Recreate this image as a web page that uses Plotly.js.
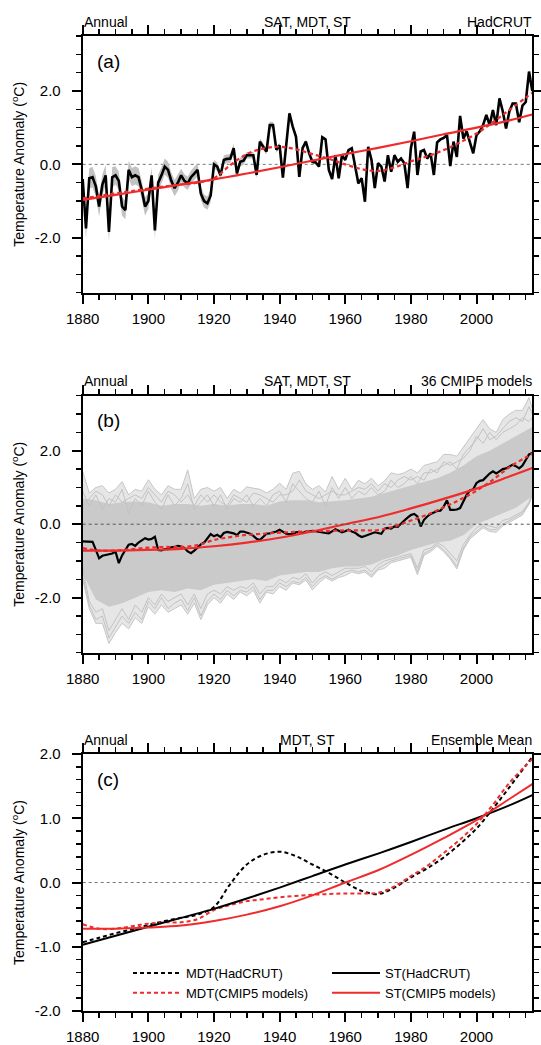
<!DOCTYPE html>
<html><head><meta charset="utf-8">
<script src="https://cdn.plot.ly/plotly-3.0.1.min.js"></script>
<style>html,body{margin:0;padding:0;background:#fff}#chart{width:541px;height:1045px}</style>
</head><body><div id="chart"></div>
<script>
// ---------------- data ----------------
const years = []; for (let y = 1880; y <= 2017; y++) years.push(y);

// (a) HadCRUT annual SAT anomaly
const satHadCRUT = [
 -0.40,-1.75,-0.38,-0.35,-0.60,-1.15,-0.55,-0.30,-1.84,-0.35,
 -0.30,-0.45,-1.15,-1.25,-0.15,-0.35,-0.30,-0.35,-0.70,-1.15,
 -1.00,-0.30,-1.80,-0.50,-0.30,-0.06,-0.15,-0.45,-0.65,-0.50,
 -0.30,-0.45,-0.52,-0.35,-0.25,-0.15,-0.80,-1.00,-1.06,-0.85,
  0.00,-0.06,-0.30, 0.12, 0.15, 0.16, 0.44,-0.25, 0.07, 0.10,
  0.25, 0.25, 0.25,-0.29, 0.62, 0.48, 0.35, 1.07, 1.07, 0.40,
  0.52,-0.36, 0.50, 1.39, 1.03, 0.75,-0.34, 0.44, 0.62, 0.30,
  0.07, 0.05,-0.06, 0.74, 0.68,-0.15,-0.40, 0.25,-0.38, 0.25,
  0.12, 0.39, 0.44,-0.06,-0.52,-0.38,-1.02, 0.48, 0.12,-0.65,
  0.03,-0.06,-0.47, 0.25,-0.20, 0.25, 0.07, 0.16, 0.03,-0.65,
  0.44, 0.89,-0.29, 0.35, 0.39, 0.16, 0.30,-0.29, 0.60, 0.68,
  0.72, 0.80,-0.05, 0.62, 0.20, 1.32, 0.70, 0.90, 0.57, 0.30,
  0.80, 0.90, 1.07, 1.35, 1.07, 1.48, 1.07, 1.80, 1.45, 0.98,
  1.44, 1.66, 1.66, 1.15, 1.60, 1.70, 2.53, 2.00];
// half-width of the HadCRUT uncertainty band, per decade (1880s ... 2010s)
const satUncDecade = [0.28,0.25,0.22,0.18,0.12,0.09,0.06,0.05,0.04,0.04,0.04,0.04,0.04,0.04];

// MDT and ST curves
const mdtYears = [1880,1885,1890,1895,1900,1905,1910,1915,1920,1925,1930,1935,1940,1945,1950,1955,1960,1965,1970,1975,1980,1985,1990,1995,2000,2005,2010,2015,2017];
const mdtHadCRUT = [-0.93,-0.86,-0.79,-0.73,-0.66,-0.60,-0.55,-0.50,-0.38,-0.02,0.28,0.43,0.48,0.41,0.28,0.15,0.00,-0.13,-0.18,-0.08,0.08,0.22,0.39,0.60,0.84,1.15,1.48,1.82,1.95];
const mdtCMIP5 = [-0.65,-0.72,-0.72,-0.68,-0.64,-0.62,-0.62,-0.57,-0.43,-0.35,-0.29,-0.26,-0.23,-0.21,-0.19,-0.18,-0.17,-0.17,-0.16,-0.06,0.10,0.26,0.46,0.67,0.91,1.21,1.55,1.82,1.92];
const stYears = [1880,1890,1900,1910,1920,1930,1940,1950,1960,1970,1980,1990,2000,2010,2017];
const stHadCRUT = [-0.97,-0.83,-0.69,-0.55,-0.41,-0.25,-0.08,0.10,0.28,0.45,0.63,0.82,1.00,1.20,1.36];
const stCMIP5 = [-0.72,-0.72,-0.70,-0.67,-0.60,-0.50,-0.37,-0.20,0.00,0.19,0.43,0.69,0.97,1.30,1.53];

// (b) CMIP5 multi-model mean SAT
const satCMIP5Mean = [
 -0.47,-0.47,-0.47,-0.48,-0.70,-0.93,-0.86,-0.84,-0.84,-0.80,
 -0.75,-1.06,-0.85,-0.70,-0.56,-0.54,-0.59,-0.50,-0.44,-0.38,
 -0.42,-0.40,-0.34,-0.70,-0.71,-0.68,-0.68,-0.63,-0.62,-0.59,
 -0.61,-0.65,-0.74,-0.79,-0.72,-0.62,-0.55,-0.50,-0.38,-0.27,
 -0.33,-0.29,-0.35,-0.24,-0.21,-0.23,-0.25,-0.30,-0.20,-0.20,
 -0.23,-0.26,-0.32,-0.40,-0.43,-0.34,-0.26,-0.25,-0.23,-0.20,
 -0.15,-0.20,-0.26,-0.27,-0.27,-0.22,-0.21,-0.24,-0.20,-0.20,
 -0.18,-0.19,-0.20,-0.21,-0.24,-0.25,-0.20,-0.14,-0.18,-0.22,
 -0.19,-0.15,-0.20,-0.23,-0.30,-0.35,-0.32,-0.29,-0.25,-0.22,
 -0.24,-0.26,-0.12,-0.10,-0.12,-0.06,-0.07, 0.03, 0.10, 0.18,
  0.25, 0.28, 0.21,-0.06, 0.12, 0.21, 0.28, 0.32, 0.36, 0.37,
  0.48, 0.65, 0.39, 0.39, 0.40, 0.44, 0.62, 0.80, 0.92, 0.95,
  1.12, 1.18, 1.20, 1.30, 1.38, 1.44, 1.38, 1.44, 1.50, 1.52,
  1.58, 1.62, 1.58, 1.52, 1.60, 1.75, 1.90, 1.94];

// (b) spread of the 36 CMIP5 model runs: outer envelope, dense core and a few individual fringe runs
const envYears = [1880,1882,1884,1886,1888,1890,1892,1894,1896,1898,1900,1902,1904,1906,1908,1910,1912,1914,1916,1918,
 1920,1922,1924,1926,1928,1930,1932,1934,1936,1938,1940,1942,1944,1946,1948,1950,1952,1954,1956,1958,
 1960,1962,1964,1966,1968,1970,1972,1974,1976,1978,1980,1982,1984,1986,1988,1990,1992,1994,1996,1998,
 2000,2002,2004,2006,2008,2010,2012,2014,2016,2017];
const modelMax = [
 1.44,0.85,1.00,1.05,0.85,0.95,1.16,0.80,0.95,0.90,
 1.21,0.95,0.80,1.05,0.95,0.95,1.48,0.70,0.95,1.00,
 0.90,1.00,0.70,0.95,0.85,1.02,0.98,0.95,0.85,0.95,
 1.12,0.95,1.39,1.44,1.10,0.95,1.05,0.88,1.30,0.95,
 1.25,0.95,1.20,1.10,1.25,1.05,1.18,1.40,1.35,1.40,
 1.50,1.40,1.60,1.66,1.70,1.90,1.90,1.85,2.10,2.35,
 2.60,2.85,2.60,2.50,2.85,3.00,3.10,3.10,3.45,3.15];
const modelMin = [
 -1.50,-2.30,-2.70,-2.70,-3.25,-2.95,-2.70,-2.85,-2.55,-2.70,
 -2.25,-2.45,-2.20,-2.40,-2.30,-2.20,-2.45,-2.15,-2.60,-2.20,
 -2.00,-2.15,-1.90,-2.05,-1.85,-1.95,-1.80,-2.15,-1.85,-1.90,
 -1.70,-1.80,-1.60,-1.65,-1.52,-1.79,-1.60,-1.45,-1.55,-1.45,
 -1.40,-1.30,-1.35,-1.30,-1.45,-1.25,-1.20,-1.05,-1.00,-0.95,
 -0.90,-1.38,-0.85,-0.75,-0.60,-0.75,-0.95,-1.22,-0.70,-0.40,
 -0.25,-0.10,-0.20,-0.22,-0.05,0.05,0.15,0.25,0.55,0.80];
const modelRunA = [
 0.90,0.50,0.80,0.40,0.70,0.60,0.95,0.30,0.70,0.50,
 0.90,0.60,0.40,0.80,0.50,0.70,1.10,0.40,0.60,0.80,
 0.50,0.80,0.40,0.70,0.60,0.80,0.50,0.70,0.50,0.80,
 0.90,0.60,1.10,0.90,0.70,0.60,0.90,0.50,1.00,0.70,
 1.00,0.70,0.90,0.80,1.00,0.80,0.90,1.20,1.00,1.10,
 1.30,1.10,1.40,1.40,1.50,1.60,1.70,1.50,1.90,2.10,
 2.30,2.60,2.30,2.40,2.60,2.80,2.90,2.80,3.20,3.00];
const modelRunB = [
 0.50,0.70,0.90,0.80,0.50,0.80,0.60,0.70,0.80,0.70,
 1.00,0.80,0.60,0.90,0.80,0.60,0.80,0.50,0.80,0.60,
 0.80,0.60,0.50,0.80,0.70,0.60,0.85,0.80,0.70,0.60,
 0.80,0.80,0.90,1.20,0.90,0.80,0.70,0.80,0.90,0.80,
 0.80,0.90,1.00,0.95,1.10,0.90,1.10,1.00,1.20,1.30,
 1.20,1.30,1.20,1.50,1.40,1.70,1.60,1.70,1.80,2.00,
 2.40,2.20,2.50,2.30,2.50,2.60,2.70,2.90,2.80,2.90];
const modelRunC = [
 -1.20,-2.10,-2.40,-2.30,-2.90,-2.60,-2.30,-2.60,-2.20,-2.40,
 -2.00,-2.20,-1.90,-2.10,-2.00,-1.90,-2.20,-1.90,-2.30,-1.90,
 -1.80,-1.90,-1.70,-1.80,-1.70,-1.75,-1.60,-1.90,-1.70,-1.70,
 -1.50,-1.60,-1.45,-1.50,-1.35,-1.60,-1.40,-1.30,-1.40,-1.30,
 -1.20,-1.20,-1.20,-1.15,-1.30,-1.10,-1.00,-0.95,-0.90,-0.85,
 -0.80,-1.20,-0.70,-0.65,-0.50,-0.60,-0.80,-1.00,-0.55,-0.30,
 -0.10,0.00,-0.05,-0.10,0.10,0.15,0.25,0.35,0.60,0.85];
const modelRunD = [
 -1.40,-2.20,-2.60,-2.50,-3.10,-2.80,-2.50,-2.70,-2.40,-2.60,
 -2.10,-2.30,-2.00,-2.30,-2.15,-2.05,-2.35,-2.00,-2.50,-2.10,
 -1.90,-2.05,-1.80,-1.95,-1.80,-1.85,-1.70,-2.05,-1.80,-1.80,
 -1.60,-1.70,-1.55,-1.60,-1.45,-1.70,-1.50,-1.40,-1.50,-1.40,
 -1.30,-1.25,-1.30,-1.25,-1.40,-1.20,-1.10,-1.00,-0.95,-0.90,
 -0.85,-1.30,-0.80,-0.70,-0.55,-0.70,-0.90,-1.15,-0.65,-0.35,
 -0.20,-0.05,-0.15,-0.15,0.00,0.10,0.20,0.30,0.55,0.80];
const coreYears = [1880,1884,1888,1892,1896,1900,1904,1908,1912,1916,1920,1924,1928,1932,1936,1940,1944,1948,1952,1956,
 1960,1964,1968,1972,1976,1980,1984,1988,1992,1996,2000,2004,2008,2012,2016,2017];
const coreHigh = [0.70,0.65,0.55,0.60,0.62,0.60,0.50,0.55,0.55,0.50,0.55,0.50,0.55,0.55,0.50,0.62,0.65,0.65,0.60,0.62,
 0.65,0.70,0.75,0.85,0.95,1.05,1.15,1.25,1.40,1.60,1.85,2.00,2.20,2.40,2.60,2.65];
const coreLow = [-1.35,-2.05,-2.25,-2.15,-2.00,-1.85,-1.80,-1.85,-1.75,-1.80,-1.65,-1.60,-1.55,-1.50,-1.55,-1.40,-1.35,-1.30,-1.30,-1.20,
 -1.15,-1.15,-1.10,-0.95,-0.85,-0.70,-0.60,-0.50,-0.45,-0.30,0.00,0.15,0.30,0.45,0.70,0.80];

// ticks and labels
const xTickVals = [1880,1900,1920,1940,1960,1980,2000];
const xTickText = ['1880','1900','1920','1940','1960','1980','2000'];
const yTickValsAB = [-2,0,2];
const yTickTextAB = ['-2.0','0.0','2.0'];
const yTickValsC = [-2,-1,0,1,2];
const yTickTextC = ['-2.0','-1.0','0.0','1.0','2.0'];
const panelTitles = [
  ['Annual','SAT, MDT, ST','HadCRUT','(a)'],
  ['Annual','SAT, MDT, ST','36 CMIP5 models','(b)'],
  ['Annual','MDT, ST','Ensemble Mean','(c)']];
const legendNames = ['MDT(HadCRUT)','MDT(CMIP5 models)','ST(HadCRUT)','ST(CMIP5 models)'];

// ---------------- styling ----------------
const FONT = 'Liberation Sans, Arial, Helvetica, sans-serif';
const RED = '#ef2b2b';
const DASH = '4px,3px';
const bandLo = satHadCRUT.map((v, i) => v - satUncDecade[Math.floor(i / 10)]);
const bandHi = satHadCRUT.map((v, i) => v + satUncDecade[Math.floor(i / 10)]);
const runStyle = {width: 1, color: '#c2c2c2'};

const traces = [
  // panel (a)
  {x: years, y: bandLo, xaxis: 'x', yaxis: 'y', mode: 'lines', line: {width: 0, color: '#c2c2c2'}, showlegend: false, hoverinfo: 'skip'},
  {x: years, y: bandHi, xaxis: 'x', yaxis: 'y', mode: 'lines', fill: 'tonexty', fillcolor: '#c2c2c2', line: {width: 0, color: '#c2c2c2'}, showlegend: false, hoverinfo: 'skip'},
  {x: years, y: satHadCRUT, xaxis: 'x', yaxis: 'y', mode: 'lines', line: {color: '#000', width: 2.6}, showlegend: false},
  {x: mdtYears, y: mdtHadCRUT, xaxis: 'x', yaxis: 'y', mode: 'lines', line: {color: RED, width: 2.2, dash: DASH, shape: 'spline'}, showlegend: false},
  {x: stYears, y: stHadCRUT, xaxis: 'x', yaxis: 'y', mode: 'lines', line: {color: RED, width: 2.2, shape: 'spline'}, showlegend: false},
  // panel (b)
  {x: envYears, y: modelMin, xaxis: 'x2', yaxis: 'y2', mode: 'lines', line: {width: 1, color: '#c6c6c6'}, showlegend: false, hoverinfo: 'skip'},
  {x: envYears, y: modelMax, xaxis: 'x2', yaxis: 'y2', mode: 'lines', fill: 'tonexty', fillcolor: '#e6e6e6', line: {width: 1, color: '#c6c6c6'}, showlegend: false, hoverinfo: 'skip'},
  {x: coreYears, y: coreLow, xaxis: 'x2', yaxis: 'y2', mode: 'lines', line: {width: 0, color: '#c9c9c9'}, showlegend: false, hoverinfo: 'skip'},
  {x: coreYears, y: coreHigh, xaxis: 'x2', yaxis: 'y2', mode: 'lines', fill: 'tonexty', fillcolor: '#cacaca', line: {width: 0, color: '#c9c9c9'}, showlegend: false, hoverinfo: 'skip'},
  {x: envYears, y: modelRunA, xaxis: 'x2', yaxis: 'y2', mode: 'lines', line: runStyle, showlegend: false, hoverinfo: 'skip'},
  {x: envYears, y: modelRunB, xaxis: 'x2', yaxis: 'y2', mode: 'lines', line: runStyle, showlegend: false, hoverinfo: 'skip'},
  {x: envYears, y: modelRunC, xaxis: 'x2', yaxis: 'y2', mode: 'lines', line: runStyle, showlegend: false, hoverinfo: 'skip'},
  {x: envYears, y: modelRunD, xaxis: 'x2', yaxis: 'y2', mode: 'lines', line: runStyle, showlegend: false, hoverinfo: 'skip'},
  {x: years, y: satCMIP5Mean, xaxis: 'x2', yaxis: 'y2', mode: 'lines', line: {color: '#000', width: 2.2}, showlegend: false},
  {x: mdtYears, y: mdtCMIP5, xaxis: 'x2', yaxis: 'y2', mode: 'lines', line: {color: RED, width: 2.2, dash: DASH, shape: 'spline'}, showlegend: false},
  {x: stYears, y: stCMIP5, xaxis: 'x2', yaxis: 'y2', mode: 'lines', line: {color: RED, width: 2.2, shape: 'spline'}, showlegend: false},
  // panel (c)
  {x: mdtYears, y: mdtHadCRUT, xaxis: 'x3', yaxis: 'y3', mode: 'lines', name: legendNames[0], legend: 'legend', line: {color: '#000', width: 2, dash: DASH, shape: 'spline'}},
  {x: mdtYears, y: mdtCMIP5, xaxis: 'x3', yaxis: 'y3', mode: 'lines', name: legendNames[1], legend: 'legend', line: {color: RED, width: 2, dash: DASH, shape: 'spline'}},
  {x: stYears, y: stHadCRUT, xaxis: 'x3', yaxis: 'y3', mode: 'lines', name: legendNames[2], legend: 'legend2', line: {color: '#000', width: 2, shape: 'spline'}},
  {x: stYears, y: stCMIP5, xaxis: 'x3', yaxis: 'y3', mode: 'lines', name: legendNames[3], legend: 'legend2', line: {color: RED, width: 2, shape: 'spline'}}
];

const XDOM = [82.7 / 541, 532.3 / 541];
const H = 1045;
const dom = (top, bottom) => [1 - bottom / H, 1 - top / H];
const yDomains = [dom(36, 292.7), dom(395.7, 652.7), dom(754, 1011)];

function xAxis(anchor) {
  return {domain: XDOM, anchor: anchor, range: [1880, 2017], tickmode: 'array', tickvals: xTickVals, ticktext: xTickText,
    ticks: 'outside', ticklen: 9, tickwidth: 2, tickcolor: '#000', showline: true, linewidth: 2, linecolor: '#000',
    mirror: 'allticks', showgrid: false, zeroline: false, ticklabelstandoff: 2,
    tickfont: {family: FONT, size: 15, color: '#000'},
    minor: {dtick: 5, tick0: 1880, ticks: 'outside', ticklen: 5, tickwidth: 1.5, tickcolor: '#000', showgrid: false}};
}
function yAxis(anchor, domain, range, tv, tt, minorDtick) {
  return {domain: domain, anchor: anchor, range: range, tickmode: 'array', tickvals: tv, ticktext: tt,
    ticks: 'outside', ticklen: 9, tickwidth: 2, tickcolor: '#000', showline: true, linewidth: 2, linecolor: '#000',
    mirror: 'allticks', showgrid: false, zeroline: false, ticklabelstandoff: 8,
    tickfont: {family: FONT, size: 15, color: '#000'},
    title: {text: 'Temperature Anomaly (<sup>o</sup>C)', font: {family: FONT, size: 14, color: '#000'}, standoff: 7},
    minor: {dtick: minorDtick, tick0: 0, ticks: 'outside', ticklen: 5, tickwidth: 1.5, tickcolor: '#000', showgrid: false}};
}

const annotations = [];
const axNames = ['', '2', '3'];
panelTitles.forEach((t, i) => {
  const xr = 'x' + axNames[i] + ' domain', yr = 'y' + axNames[i] + ' domain';
  const base = {xref: xr, yref: yr, y: 1, yanchor: 'middle', yshift: 14.5, showarrow: false, font: {family: FONT, size: 14, color: '#000'}};
  annotations.push(Object.assign({}, base, {x: 0, xanchor: 'left', xshift: -1, text: t[0]}));
  annotations.push(Object.assign({}, base, {x: 0.5, xanchor: 'center', text: t[1]}));
  annotations.push(Object.assign({}, base, {x: 1, xanchor: 'right', xshift: 2, text: t[2]}));
  annotations.push({xref: xr, yref: yr, x: 0, xanchor: 'left', xshift: 12, y: 1, yanchor: 'middle', yshift: -25, showarrow: false,
    text: t[3], font: {family: FONT, size: 19, color: '#000'}});
});

const shapes = ['', '2', '3'].map((s, i) => ({type: 'line', xref: 'x' + s + ' domain', x0: 0, x1: 1, yref: 'y' + s, y0: 0, y1: 0,
  layer: i === 1 ? 'above' : 'below', line: {color: i === 1 ? '#555' : '#777', width: 1, dash: '3px,3px'}}));

const legendBase = {orientation: 'v', traceorder: 'normal', xanchor: 'left', yanchor: 'top', y: 1 - 958 / H, bgcolor: 'rgba(0,0,0,0)', borderwidth: 0,
  itemwidth: 48, tracegroupgap: 0, font: {family: FONT, size: 13, color: '#000'}};

const layout = {
  width: 541, height: 1045, margin: {l: 0, r: 0, t: 0, b: 0}, paper_bgcolor: '#fff', plot_bgcolor: '#fff',
  font: {family: FONT, color: '#000'}, showlegend: true,
  xaxis: xAxis('y'), xaxis2: xAxis('y2'), xaxis3: xAxis('y3'),
  yaxis: yAxis('x', yDomains[0], [-3.5, 3.5], yTickValsAB, yTickTextAB, 0.5),
  yaxis2: yAxis('x2', yDomains[1], [-3.5, 3.5], yTickValsAB, yTickTextAB, 0.5),
  yaxis3: yAxis('x3', yDomains[2], [-2, 2], yTickValsC, yTickTextC, 0.2),
  legend: Object.assign({}, legendBase, {x: 128 / 541}),
  legend2: Object.assign({}, legendBase, {x: 327 / 541}),
  annotations: annotations, shapes: shapes
};

Plotly.newPlot('chart', traces, layout, {displayModeBar: false, staticPlot: true});
</script>
</body></html>
